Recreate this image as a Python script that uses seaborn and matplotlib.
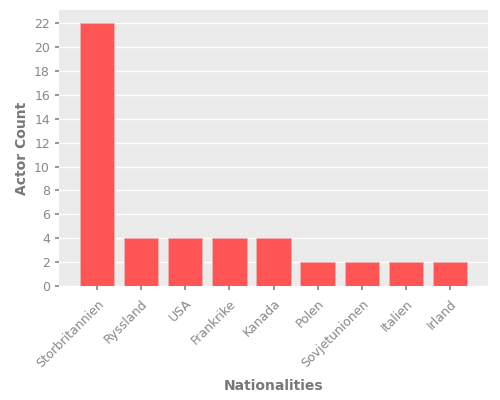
import matplotlib
matplotlib.use("Agg")
import matplotlib.pyplot as plt
import seaborn as sns
import pandas as pd

nationalities = ["Storbritannien", "Ryssland", "USA", "Frankrike", "Kanada",
                 "Polen", "Sovjetunionen", "Italien", "Irland"]
actor_counts = [22, 4, 4, 4, 4, 2, 2, 2, 2]

df = pd.DataFrame({"Nationalities": nationalities, "Actor Count": actor_counts})

sns.set_theme(style="darkgrid", rc={
    "axes.facecolor": "#ebebeb",
    "grid.color": "white",
    "grid.linewidth": 1.0,
    "xtick.color": "#888888",
    "ytick.color": "#888888",
    "xtick.labelcolor": "#888888",
    "ytick.labelcolor": "#888888",
    "xtick.bottom": True,
    "ytick.left": True,
    "xtick.major.size": 3,
    "ytick.major.size": 3,
    "axes.labelcolor": "#777777",
})
plt.rcParams["font.family"] = ["DejaVu Sans"]

fig, ax = plt.subplots(figsize=(5, 4), dpi=100)
sns.barplot(data=df, x="Nationalities", y="Actor Count", color="#ff5555",
            saturation=1, width=0.78, edgecolor="#f0b0b0", linewidth=0.6, ax=ax)
ax.grid(axis="x", visible=False)
ax.set_yticks(range(0, 23, 2))
ax.set_ylim(0, 23.1)
ax.set_xlim(-0.86, 8.86)
ax.tick_params(axis="both", labelsize=9)
ax.tick_params(axis="x", pad=5)
plt.setp(ax.get_xticklabels(), rotation=45, ha="right", rotation_mode="anchor")
ax.set_xlabel("Nationalities", fontsize=10, fontweight="bold", labelpad=7)
ax.set_ylabel("Actor Count", fontsize=10, fontweight="bold")
for s in ax.spines.values():
    s.set_visible(False)

fig.subplots_adjust(left=0.118, right=0.976, top=0.975, bottom=0.285)
fig.savefig("out.png", dpi=100)
